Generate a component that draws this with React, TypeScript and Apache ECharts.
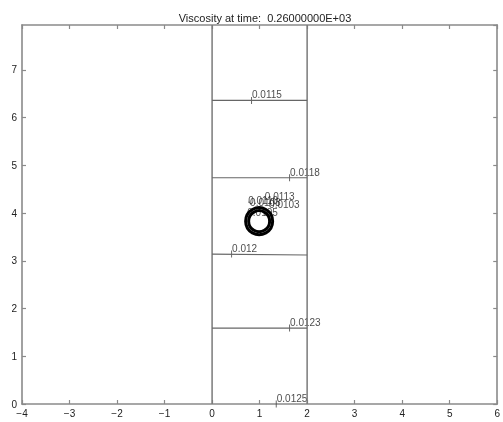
import React, { useEffect, useRef } from "react";
import * as echarts from "echarts";

const titleText = "Viscosity at time:  0.26000000E+03";
const xTicks = [-4, -3, -2, -1, 0, 1, 2, 3, 4, 5, 6];
const yRange = [0, 7.94];

// vertical contour boundaries (x positions)
const verticalLines = [0, 2];
// horizontal contour levels
const contourLevels = ["0.0115", "0.0118", "0.012", "0.0123", "0.0125"];
const contourY = [6.36, 4.74, 3.14, 1.59, 0.0];
const contourYRight = [6.36, 4.74, 3.12, 1.59, 0.0];
// label anchor x positions
const labelX = [0.83, 1.63, 0.41, 1.63, 1.35];
// circle cluster
const circleCenter = [0.99, 3.83];
const clusterLabels = ["0.0110", "0.0108", "0.0113", "0.0103", "0.0105"];
const clusterLabelPos = [
  [0.77, 4.23],
  [0.81, 4.19],
  [1.12, 4.32],
  [1.21, 4.15],
  [0.75, 3.98],
];

export default function App() {
  const ref = useRef<HTMLDivElement>(null);
  useEffect(() => {
    if (!ref.current) return;
    const chart = echarts.init(ref.current, undefined, { renderer: "svg" });
    const gray = "#8a8a8a";
    const font = "Liberation Sans";
    const axisCommon = {
      axisLine: { show: true, onZero: false, lineStyle: { color: gray, width: 1.6 } },
      axisTick: { show: true, inside: true, length: 4, lineStyle: { color: gray, width: 1.2 } },
      splitLine: { show: false },
    };
    const labelStyle = {
      show: true,
      formatter: "{b}",
      align: "left",
      verticalAlign: "top",
      fontFamily: font,
      fontSize: 10,
      color: "#1a1a1a",
    };
    const series: any[] = [];
    verticalLines.forEach((x) => {
      series.push({
        type: "line",
        data: [
          [x, yRange[0]],
          [x, yRange[1]],
        ],
        symbol: "none",
        silent: true,
        lineStyle: { color: "#7a7a7a", width: 1.5 },
      });
    });
    contourLevels.forEach((lvl, i) => {
      if (contourY[i] > 0) {
        series.push({
          type: "line",
          data: [
            [0, contourY[i]],
            [2, contourYRight[i]],
          ],
          symbol: "none",
          silent: true,
          lineStyle: { color: "#666", width: 1.1 },
        });
      }
    });
    series.push({
      type: "scatter",
      symbol: "rect",
      symbolSize: [1, 7],
      silent: true,
      itemStyle: { color: "#444" },
      data: contourLevels.map((lvl, i) => ({ value: [labelX[i], contourY[i]], name: lvl })),
      label: { ...labelStyle, position: [1, -7] },
    });
    series.push({
      type: "scatter",
      symbol: "circle",
      symbolSize: 1,
      silent: true,
      itemStyle: { color: "#222" },
      data: clusterLabels.map((lvl, i) => ({ value: clusterLabelPos[i], name: lvl })),
      label: { ...labelStyle, position: [0, -6] },
    });
    [27, 21].forEach((s) => {
      series.push({
        type: "scatter",
        symbol: "circle",
        symbolSize: s,
        silent: true,
        itemStyle: { color: "rgba(0,0,0,0)", borderColor: "#000", borderWidth: 3, opacity: 1 },
        data: [circleCenter],
        z: 5,
      });
    });

    const minusFmt = (v: number) => String(v).replace("-", "\u2212");

    chart.setOption({
      animation: false,
      title: {
        text: titleText,
        left: 260,
        textAlign: "center",
        top: 7,
        textStyle: { fontFamily: font, fontSize: 11, fontWeight: "normal", color: "#222" },
      },
      grid: { left: 22, right: 4, top: 25, bottom: 18 },
      xAxis: [
        {
          type: "value",
          min: xTicks[0],
          max: xTicks[xTicks.length - 1],
          interval: 1,
          position: "bottom",
          ...axisCommon,
          axisLabel: { fontFamily: font, fontSize: 10, color: "#222", margin: 4, formatter: minusFmt },
        },
        {
          type: "value",
          min: xTicks[0],
          max: xTicks[xTicks.length - 1],
          interval: 1,
          position: "top",
          ...axisCommon,
          axisLabel: { show: false },
        },
      ],
      yAxis: [
        {
          type: "value",
          min: yRange[0],
          max: yRange[1],
          interval: 1,
          position: "left",
          ...axisCommon,
          axisLabel: {
            fontFamily: font,
            fontSize: 10,
            color: "#222",
            margin: 5,
            showMaxLabel: false,
          },
        },
        {
          type: "value",
          min: yRange[0],
          max: yRange[1],
          interval: 1,
          position: "right",
          ...axisCommon,
          axisLabel: { show: false },
        },
      ],
      series,
    });
    return () => chart.dispose();
  }, []);
  return (
    <div
      ref={ref}
      style={{ position: "fixed", left: 0, top: 0, width: 503, height: 422 }}
    />
  );
}
